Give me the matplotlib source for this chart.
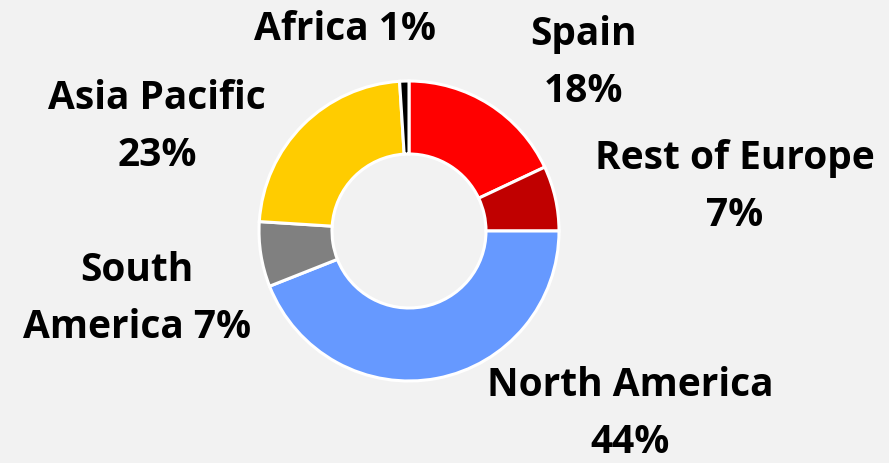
import matplotlib.pyplot as plt

# Data
regions = ["Spain", "Rest of Europe", "North America", "South America", "Asia Pacific", "Africa"]
shares = [18, 7, 44, 7, 23, 1]
colors = ["#ff0000", "#c00000", "#6699ff", "#808080", "#ffcc00", "#000000"]
labels = ["Spain\n18%", "Rest of Europe\n7%", "North America\n44%",
          "South\nAmerica 7%", "Asia Pacific\n23%", "Africa 1%"]
# label positions in pixels (x, y from top)
label_pos = [(583, 63), (735, 187), (630, 414), (137, 299), (157, 127), (345, 30)]

W, H = 889, 463
fig = plt.figure(figsize=(W / 100, H / 100), dpi=100, facecolor="#f2f2f2")
ax = fig.add_axes([0, 0, 1, 1])
ax.set_facecolor("#f2f2f2")

ax.pie(shares, colors=colors, startangle=90, counterclock=False,
       center=(409, H - 231), radius=150,
       wedgeprops=dict(width=73, edgecolor="white", linewidth=2.2))

for text, (x, y) in zip(labels, label_pos):
    ax.text(x, H - y, text, ha="center", va="center", fontsize=28,
            fontweight="bold", family="Open Sans", linespacing=1.6)

ax.set_xlim(0, W)
ax.set_ylim(0, H)
ax.set_aspect("equal")
ax.axis("off")

fig.savefig("out.png", dpi=100, facecolor=fig.get_facecolor())
